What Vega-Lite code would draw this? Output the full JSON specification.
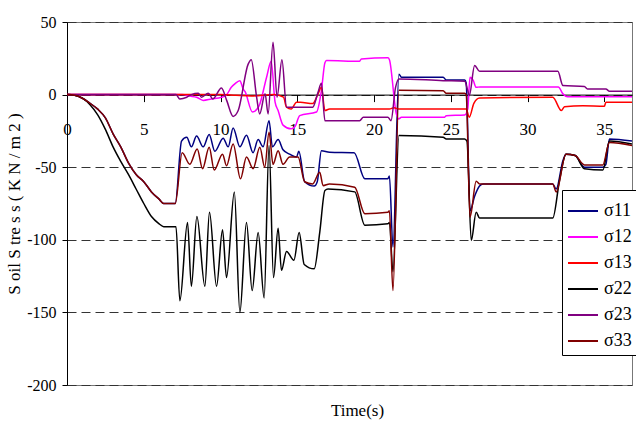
{
  "$schema": "https://vega.github.io/schema/vega-lite/v6.json",
  "width": 565,
  "height": 363,
  "autosize": {"type": "none"},
  "padding": {"left": 67, "top": 22, "right": 4, "bottom": 39},
  "background": "white",
  "config": {
    "font": "Liberation Serif, serif",
    "view": {"stroke": "#777", "strokeWidth": 1}
  },
  "title": {
    "text": "Time(s)",
    "orient": "bottom",
    "anchor": "middle",
    "font": "Liberation Serif, serif",
    "fontSize": 17,
    "fontWeight": "normal",
    "color": "black",
    "offset": 10,
    "dx": 8
  },
  "data": {"values": [
    {"s":"σ11","t":0,"v":0},{"s":"σ11","t":0.5,"v":-0.5},{"s":"σ11","t":1,"v":-2.5},{"s":"σ11","t":1.5,"v":-6},{"s":"σ11","t":2,"v":-10},{"s":"σ11","t":2.5,"v":-16},{"s":"σ11","t":3,"v":-27},{"s":"σ11","t":3.5,"v":-36},{"s":"σ11","t":4,"v":-47},{"s":"σ11","t":4.5,"v":-55},{"s":"σ11","t":5,"v":-60},{"s":"σ11","t":5.5,"v":-67},{"s":"σ11","t":6,"v":-72},{"s":"σ11","t":6.3,"v":-75},{"s":"σ11","t":7.05,"v":-75},{"s":"σ11","t":7.46,"v":-32},{"s":"σ11","t":7.8,"v":-29.4},{"s":"σ11","t":8.1,"v":-36},{"s":"σ11","t":8.44,"v":-28.5},{"s":"σ11","t":8.87,"v":-36},{"s":"σ11","t":9.26,"v":-27.5},{"s":"σ11","t":9.63,"v":-39},{"s":"σ11","t":10.17,"v":-30},{"s":"σ11","t":10.5,"v":-36},{"s":"σ11","t":10.82,"v":-23},{"s":"σ11","t":11.26,"v":-36},{"s":"σ11","t":11.69,"v":-28},{"s":"σ11","t":12.12,"v":-40},{"s":"σ11","t":12.45,"v":-31},{"s":"σ11","t":12.77,"v":-36},{"s":"σ11","t":13.16,"v":-18},{"s":"σ11","t":13.38,"v":-36},{"s":"σ11","t":13.75,"v":-31},{"s":"σ11","t":14.07,"v":-38},{"s":"σ11","t":14.5,"v":-41},{"s":"σ11","t":14.95,"v":-43},{"s":"σ11","t":15.1,"v":-39},{"s":"σ11","t":15.48,"v":-60},{"s":"σ11","t":16.1,"v":-63},{"s":"σ11","t":16.3,"v":-60},{"s":"σ11","t":16.57,"v":-38.6},{"s":"σ11","t":17.1,"v":-39.7},{"s":"σ11","t":18.7,"v":-40},{"s":"σ11","t":19.4,"v":-58},{"s":"σ11","t":20.9,"v":-58},{"s":"σ11","t":21.0,"v":-56},{"s":"σ11","t":21.23,"v":-105},{"s":"σ11","t":21.62,"v":14},{"s":"σ11","t":21.78,"v":12},{"s":"σ11","t":24.5,"v":12},{"s":"σ11","t":24.7,"v":10},{"s":"σ11","t":25.9,"v":10},{"s":"σ11","t":26.0,"v":8},{"s":"σ11","t":26.25,"v":-80},{"s":"σ11","t":26.55,"v":-70},{"s":"σ11","t":26.87,"v":-63},{"s":"σ11","t":27.1,"v":-61.5},{"s":"σ11","t":31.64,"v":-61.5},{"s":"σ11","t":31.86,"v":-65},{"s":"σ11","t":32.3,"v":-45.5},{"s":"σ11","t":32.5,"v":-41},{"s":"σ11","t":33.1,"v":-42},{"s":"σ11","t":33.7,"v":-50},{"s":"σ11","t":34.9,"v":-50},{"s":"σ11","t":35.1,"v":-48},{"s":"σ11","t":35.33,"v":-30.5},{"s":"σ11","t":36.8,"v":-32},
    {"s":"σ12","t":0,"v":0},{"s":"σ12","t":7.5,"v":0},{"s":"σ12","t":8.0,"v":-1},{"s":"σ12","t":8.44,"v":-1.8},{"s":"σ12","t":8.87,"v":-4},{"s":"σ12","t":9.4,"v":-3},{"s":"σ12","t":10.06,"v":-1.8},{"s":"σ12","t":10.4,"v":0},{"s":"σ12","t":10.7,"v":5},{"s":"σ12","t":10.93,"v":7.4},{"s":"σ12","t":11.26,"v":9.6},{"s":"σ12","t":11.47,"v":4},{"s":"σ12","t":11.6,"v":2},{"s":"σ12","t":12.08,"v":-12},{"s":"σ12","t":12.5,"v":-8},{"s":"σ12","t":13.0,"v":12},{"s":"σ12","t":13.3,"v":23},{"s":"σ12","t":13.55,"v":-5},{"s":"σ12","t":13.75,"v":-11},{"s":"σ12","t":14.07,"v":-21},{"s":"σ12","t":14.6,"v":-23.6},{"s":"σ12","t":14.85,"v":-22},{"s":"σ12","t":15.16,"v":-14.5},{"s":"σ12","t":16.25,"v":-12},{"s":"σ12","t":16.57,"v":2.8},{"s":"σ12","t":16.8,"v":22},{"s":"σ12","t":16.9,"v":23.4},{"s":"σ12","t":19.06,"v":23},{"s":"σ12","t":19.17,"v":24.6},{"s":"σ12","t":20.9,"v":25.3},{"s":"σ12","t":21.0,"v":24},{"s":"σ12","t":21.45,"v":-13.3},{"s":"σ12","t":21.6,"v":-16.8},{"s":"σ12","t":21.78,"v":-15.6},{"s":"σ12","t":24.6,"v":-15.6},{"s":"σ12","t":24.7,"v":-14.5},{"s":"σ12","t":25.9,"v":-14},{"s":"σ12","t":26.1,"v":-10},{"s":"σ12","t":26.25,"v":12},{"s":"σ12","t":26.45,"v":10},{"s":"σ12","t":26.65,"v":5},{"s":"σ12","t":26.9,"v":5.3},{"s":"σ12","t":32.0,"v":5.3},{"s":"σ12","t":32.3,"v":0.5},{"s":"σ12","t":32.6,"v":-1.4},{"s":"σ12","t":36.8,"v":-1.4},
    {"s":"σ13","t":0,"v":0},{"s":"σ13","t":10.0,"v":0},{"s":"σ13","t":11.0,"v":-0.5},{"s":"σ13","t":12.0,"v":-1},{"s":"σ13","t":13.5,"v":0},{"s":"σ13","t":14.1,"v":-1.8},{"s":"σ13","t":14.3,"v":-8.7},{"s":"σ13","t":14.6,"v":-10},{"s":"σ13","t":14.95,"v":-5.3},{"s":"σ13","t":15.2,"v":-5.3},{"s":"σ13","t":16.0,"v":-6.2},{"s":"σ13","t":16.35,"v":0.5},{"s":"σ13","t":16.57,"v":5},{"s":"σ13","t":16.8,"v":-11},{"s":"σ13","t":17.1,"v":-9.9},{"s":"σ13","t":21.0,"v":-10},{"s":"σ13","t":21.3,"v":-9},{"s":"σ13","t":21.6,"v":-10},{"s":"σ13","t":26.0,"v":-10},{"s":"σ13","t":26.2,"v":-15.6},{"s":"σ13","t":26.5,"v":-6},{"s":"σ13","t":26.87,"v":-2.3},{"s":"σ13","t":31.64,"v":-1.8},{"s":"σ13","t":32.2,"v":-11},{"s":"σ13","t":32.4,"v":-8.3},{"s":"σ13","t":33.6,"v":-7.6},{"s":"σ13","t":35.0,"v":-8},{"s":"σ13","t":35.1,"v":-5.3},{"s":"σ13","t":36.8,"v":-5.3},
    {"s":"σ22","t":0,"v":0},{"s":"σ22","t":0.5,"v":-0.5},{"s":"σ22","t":1,"v":-2.5},{"s":"σ22","t":1.5,"v":-7},{"s":"σ22","t":2,"v":-14},{"s":"σ22","t":2.5,"v":-24},{"s":"σ22","t":3,"v":-36},{"s":"σ22","t":3.5,"v":-46},{"s":"σ22","t":4,"v":-55},{"s":"σ22","t":4.5,"v":-65},{"s":"σ22","t":5,"v":-75},{"s":"σ22","t":5.5,"v":-84},{"s":"σ22","t":6,"v":-89},{"s":"σ22","t":6.3,"v":-91},{"s":"σ22","t":7.1,"v":-91},{"s":"σ22","t":7.35,"v":-142},{"s":"σ22","t":7.85,"v":-88},{"s":"σ22","t":8.1,"v":-132},{"s":"σ22","t":8.46,"v":-84},{"s":"σ22","t":8.98,"v":-132},{"s":"σ22","t":9.28,"v":-81},{"s":"σ22","t":9.74,"v":-132},{"s":"σ22","t":10.13,"v":-93},{"s":"σ22","t":10.39,"v":-126},{"s":"σ22","t":10.9,"v":-67},{"s":"σ22","t":11.26,"v":-150},{"s":"σ22","t":11.69,"v":-88},{"s":"σ22","t":12.06,"v":-135},{"s":"σ22","t":12.45,"v":-95},{"s":"σ22","t":12.84,"v":-140},{"s":"σ22","t":13.16,"v":-35},{"s":"σ22","t":13.45,"v":-126},{"s":"σ22","t":13.75,"v":-92},{"s":"σ22","t":13.97,"v":-121},{"s":"σ22","t":14.3,"v":-108},{"s":"σ22","t":14.78,"v":-114},{"s":"σ22","t":15.12,"v":-95},{"s":"σ22","t":15.45,"v":-117},{"s":"σ22","t":16.1,"v":-120},{"s":"σ22","t":16.46,"v":-95},{"s":"σ22","t":16.8,"v":-66},{"s":"σ22","t":17.0,"v":-65},{"s":"σ22","t":18.74,"v":-67},{"s":"σ22","t":19.4,"v":-90},{"s":"σ22","t":20.9,"v":-89},{"s":"σ22","t":21.0,"v":-88},{"s":"σ22","t":21.23,"v":-122},{"s":"σ22","t":21.62,"v":-28.2},{"s":"σ22","t":24.5,"v":-29.4},{"s":"σ22","t":24.7,"v":-30.5},{"s":"σ22","t":25.9,"v":-30.5},{"s":"σ22","t":26.05,"v":-32},{"s":"σ22","t":26.33,"v":-100.5},{"s":"σ22","t":26.65,"v":-81},{"s":"σ22","t":26.87,"v":-85},{"s":"σ22","t":31.64,"v":-85},{"s":"σ22","t":32.08,"v":-59},{"s":"σ22","t":32.5,"v":-41},{"s":"σ22","t":33.1,"v":-42},{"s":"σ22","t":33.7,"v":-51},{"s":"σ22","t":34.9,"v":-52},{"s":"σ22","t":35.33,"v":-32},{"s":"σ22","t":36.8,"v":-34},
    {"s":"σ23","t":0,"v":0},{"s":"σ23","t":7.1,"v":0},{"s":"σ23","t":7.35,"v":-3},{"s":"σ23","t":7.8,"v":-1.8},{"s":"σ23","t":8.1,"v":0},{"s":"σ23","t":8.55,"v":0.9},{"s":"σ23","t":8.76,"v":-1.8},{"s":"σ23","t":9.2,"v":0.9},{"s":"σ23","t":9.5,"v":-3},{"s":"σ23","t":10.06,"v":4.6},{"s":"σ23","t":10.4,"v":-4},{"s":"σ23","t":10.82,"v":-15},{"s":"σ23","t":11.15,"v":-11},{"s":"σ23","t":11.8,"v":21},{"s":"σ23","t":12.0,"v":24},{"s":"σ23","t":12.35,"v":-1.8},{"s":"σ23","t":12.55,"v":-13.3},{"s":"σ23","t":12.9,"v":0.5},{"s":"σ23","t":13.1,"v":-13.3},{"s":"σ23","t":13.42,"v":36},{"s":"σ23","t":13.68,"v":-1.8},{"s":"σ23","t":14.0,"v":24},{"s":"σ23","t":14.3,"v":-8.7},{"s":"σ23","t":15.05,"v":-8.7},{"s":"σ23","t":16.0,"v":-8.7},{"s":"σ23","t":16.35,"v":1.6},{"s":"σ23","t":16.57,"v":7.8},{"s":"σ23","t":16.8,"v":-18},{"s":"σ23","t":19.06,"v":-18},{"s":"σ23","t":19.3,"v":-15.6},{"s":"σ23","t":20.9,"v":-15.6},{"s":"σ23","t":21.1,"v":-18},{"s":"σ23","t":21.4,"v":5},{"s":"σ23","t":21.62,"v":10.8},{"s":"σ23","t":24.5,"v":9.6},{"s":"σ23","t":25.9,"v":9.2},{"s":"σ23","t":26.1,"v":2.8},{"s":"σ23","t":26.2,"v":-0.7},{"s":"σ23","t":26.55,"v":20},{"s":"σ23","t":26.87,"v":16},{"s":"σ23","t":31.97,"v":16},{"s":"σ23","t":32.3,"v":6.2},{"s":"σ23","t":33.7,"v":5.5},{"s":"σ23","t":33.9,"v":3.9},{"s":"σ23","t":35.1,"v":3.9},{"s":"σ23","t":35.33,"v":2.3},{"s":"σ23","t":36.8,"v":2.3},
    {"s":"σ33","t":0,"v":0},{"s":"σ33","t":0.5,"v":-0.5},{"s":"σ33","t":1,"v":-2.5},{"s":"σ33","t":1.5,"v":-6},{"s":"σ33","t":2,"v":-10},{"s":"σ33","t":2.5,"v":-16},{"s":"σ33","t":3,"v":-27},{"s":"σ33","t":3.5,"v":-36},{"s":"σ33","t":4,"v":-47},{"s":"σ33","t":4.5,"v":-55},{"s":"σ33","t":5,"v":-60},{"s":"σ33","t":5.5,"v":-67},{"s":"σ33","t":6,"v":-72},{"s":"σ33","t":6.3,"v":-75},{"s":"σ33","t":7.05,"v":-75},{"s":"σ33","t":7.5,"v":-40},{"s":"σ33","t":8.0,"v":-48},{"s":"σ33","t":8.48,"v":-37.4},{"s":"σ33","t":8.83,"v":-51},{"s":"σ33","t":9.26,"v":-36.3},{"s":"σ33","t":9.59,"v":-52},{"s":"σ33","t":10.13,"v":-41},{"s":"σ33","t":10.39,"v":-49},{"s":"σ33","t":10.82,"v":-34},{"s":"σ33","t":11.3,"v":-58},{"s":"σ33","t":11.69,"v":-43},{"s":"σ33","t":12.12,"v":-51},{"s":"σ33","t":12.56,"v":-36.3},{"s":"σ33","t":12.88,"v":-50},{"s":"σ33","t":13.16,"v":-26},{"s":"σ33","t":13.42,"v":-48},{"s":"σ33","t":13.75,"v":-38.6},{"s":"σ33","t":14.07,"v":-48},{"s":"σ33","t":14.5,"v":-43},{"s":"σ33","t":15.05,"v":-43},{"s":"σ33","t":15.48,"v":-60},{"s":"σ33","t":16.0,"v":-61.5},{"s":"σ33","t":16.46,"v":-53.5},{"s":"σ33","t":16.68,"v":-62.7},{"s":"σ33","t":17.1,"v":-61.5},{"s":"σ33","t":18.74,"v":-63.8},{"s":"σ33","t":19.4,"v":-82},{"s":"σ33","t":20.9,"v":-81},{"s":"σ33","t":21.0,"v":-80},{"s":"σ33","t":21.23,"v":-135},{"s":"σ33","t":21.62,"v":3},{"s":"σ33","t":24.5,"v":2.7},{"s":"σ33","t":24.7,"v":0.9},{"s":"σ33","t":25.9,"v":0.9},{"s":"σ33","t":26.0,"v":0},{"s":"σ33","t":26.25,"v":-84.5},{"s":"σ33","t":26.65,"v":-59.7},{"s":"σ33","t":26.87,"v":-61.5},{"s":"σ33","t":31.64,"v":-61.5},{"s":"σ33","t":31.86,"v":-67},{"s":"σ33","t":32.5,"v":-41},{"s":"σ33","t":33.1,"v":-42},{"s":"σ33","t":33.7,"v":-48.4},{"s":"σ33","t":34.9,"v":-48.4},{"s":"σ33","t":35.33,"v":-33},{"s":"σ33","t":36.8,"v":-35}
  ]},
  "mark": {"type": "line", "interpolate": "monotone", "strokeWidth": 1.5, "clip": true},
  "encoding": {
    "x": {
      "field": "t", "type": "quantitative",
      "scale": {"domain": [0, 36.8], "nice": false, "zero": false},
      "axis": {
        "title": null, "values": [0, 5, 10, 15, 20, 25, 30, 35],
        "offset": -290.4, "grid": false,
        "domainColor": "black", "domainWidth": 1,
        "tickColor": "black", "tickSize": 7,
        "labelFont": "Liberation Serif, serif", "labelFontSize": 17, "labelColor": "black",
        "labelPadding": 20, "labelFlush": false
      }
    },
    "y": {
      "field": "v", "type": "quantitative",
      "scale": {"domain": [-200, 50], "nice": false},
      "axis": {
        "title": "S oil S tre s s ( K N / m 2 )",
        "titleFont": "Liberation Serif, serif", "titleFontSize": 17, "titleFontWeight": "normal", "titleColor": "black",
        "titlePadding": 3,
        "values": [-200, -150, -100, -50, 0, 50],
        "labelExpr": "replace(datum.label, '−', '-')",
        "grid": true, "gridColor": "#333", "gridDash": [9, 5], "gridWidth": 1, "gridOpacity": 1,
        "domainColor": "black", "domainWidth": 1,
        "tickColor": "black", "tickSize": 5,
        "labelFont": "Liberation Serif, serif", "labelFontSize": 16, "labelColor": "black",
        "labelPadding": 6, "labelFlush": false
      }
    },
    "color": {
      "field": "s", "type": "nominal",
      "scale": {"domain": ["σ11", "σ12", "σ13", "σ22", "σ23", "σ33"], "range": ["#000080", "#FF00FF", "#FF0000", "#000000", "#800080", "#800000"]},
      "legend": {
        "title": null, "orient": "none", "legendX": 495, "legendY": 168,
        "strokeColor": "black", "fillColor": "white", "padding": 5,
        "symbolType": "stroke", "symbolSize": 900, "symbolStrokeWidth": 2,
        "rowPadding": 1, "labelOffset": 5,
        "labelFont": "Liberation Serif, serif", "labelFontSize": 18, "labelColor": "black"
      }
    }
  }
}
